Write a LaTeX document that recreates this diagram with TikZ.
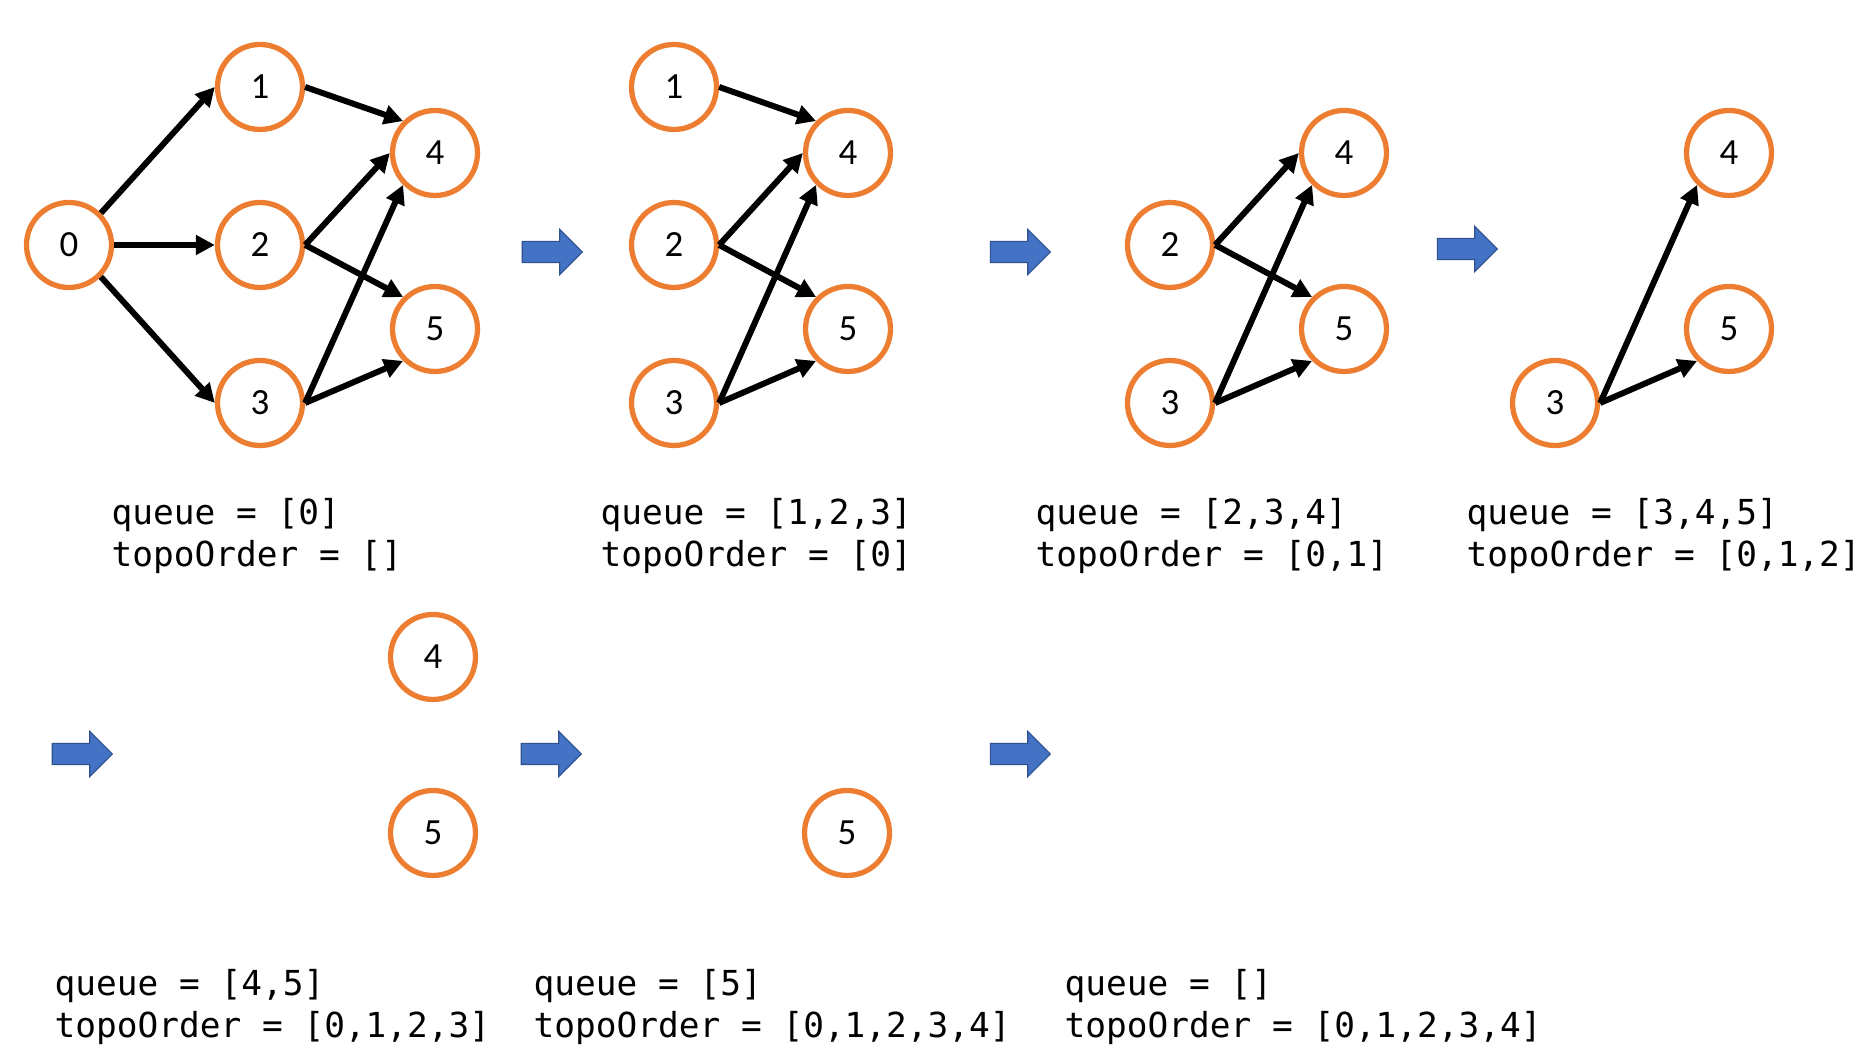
\documentclass[tikz,border=0pt]{standalone}
\usepackage{fontspec}
\setmonofont{DejaVu Sans Mono}
\newfontfamily\labelfont{Carlito}
\usepackage{tikz}
\usepackage{xcolor}
\usetikzlibrary{shapes, shapes.arrows, arrows.meta, positioning}

\definecolor{vorange}{HTML}{ED7D31}
\definecolor{stepblue}{HTML}{4472C4}
\definecolor{stepedge}{HTML}{2F528F}

\begin{document}
\begin{tikzpicture}[
        vertex/.style={circle, draw=vorange, line width=1.5pt, minimum size=0.85cm, inner sep=0pt, font=\labelfont\fontsize{10.5}{12}\selectfont},
        edge/.style={line width=1.7pt, -{Triangle[length=1.9mm, width=1.9mm]}},
        nextstep/.style={single arrow, fill=stepblue, draw=stepedge, line width=0.3pt, minimum height=0.6cm, inner xsep=0pt, inner ysep=0.1cm, single arrow head extend=0.12cm},
        state/.style={anchor=west, align=left, inner sep=0pt, font=\ttfamily\fontsize{9.8}{11.9}\selectfont}
    ]
        \useasboundingbox (0, 0) rectangle (18.74, 10.54);

        % step 1
        \node[vertex] (a0) at (0.69, 8.09) {0};
        \node[vertex] (a1) at (2.60, 9.67) {1};
        \node[vertex] (a2) at (2.60, 8.09) {2};
        \node[vertex] (a3) at (2.60, 6.51) {3};
        \node[vertex] (a4) at (4.35, 9.01) {4};
        \node[vertex] (a5) at (4.35, 7.25) {5};
        \draw[edge] (a0.north east) to (a1.west);
        \draw[edge] (a0.east) to (a2.west);
        \draw[edge] (a0.south east) to (a3.west);
        \draw[edge] (a1.east) to (a4.north west);
        \draw[edge] (a2.east) to (a4.west);
        \draw[edge] (a2.east) to (a5.north west);
        \draw[edge] (a3.east) to (a4.south west);
        \draw[edge] (a3.east) to (a5.south west);
        \node[state] (qa) at (1.11, 5.18) {queue = [0]\\topoOrder = []};

        \node[nextstep] (s1) at (5.47, 8.02) {};

        % step 2
        \node[vertex] (b1) at (6.74, 9.67) {1};
        \node[vertex] (b2) at (6.74, 8.09) {2};
        \node[vertex] (b3) at (6.74, 6.51) {3};
        \node[vertex] (b4) at (8.48, 9.01) {4};
        \node[vertex] (b5) at (8.48, 7.25) {5};
        \draw[edge] (b1.east) to (b4.north west);
        \draw[edge] (b2.east) to (b4.west);
        \draw[edge] (b2.east) to (b5.north west);
        \draw[edge] (b3.east) to (b4.south west);
        \draw[edge] (b3.east) to (b5.south west);
        \node[state] (qb) at (6.00, 5.18) {queue = [1,2,3]\\topoOrder = [0]};

        \node[nextstep] (s2) at (10.15, 8.02) {};

        % step 3
        \node[vertex] (c2) at (11.70, 8.09) {2};
        \node[vertex] (c3) at (11.70, 6.51) {3};
        \node[vertex] (c4) at (13.44, 9.01) {4};
        \node[vertex] (c5) at (13.44, 7.25) {5};
        \draw[edge] (c2.east) to (c4.west);
        \draw[edge] (c2.east) to (c5.north west);
        \draw[edge] (c3.east) to (c4.south west);
        \draw[edge] (c3.east) to (c5.south west);
        \node[state] (qc) at (10.35, 5.18) {queue = [2,3,4]\\topoOrder = [0,1]};

        \node[nextstep] (s3) at (14.62, 8.05) {};

        % step 4
        \node[vertex] (d3) at (15.55, 6.51) {3};
        \node[vertex] (d4) at (17.29, 9.01) {4};
        \node[vertex] (d5) at (17.29, 7.25) {5};
        \draw[edge] (d3.east) to (d4.south west);
        \draw[edge] (d3.east) to (d5.south west);
        \node[state] (qd) at (14.66, 5.18) {queue = [3,4,5]\\topoOrder = [0,1,2]};

        % step 5
        \node[nextstep] (s4) at (0.77, 3.00) {};
        \node[vertex] (e4) at (4.33, 3.97) {4};
        \node[vertex] (e5) at (4.33, 2.21) {5};
        \node[state] (qe) at (0.54, 0.47) {queue = [4,5]\\topoOrder = [0,1,2,3]};

        % step 6
        \node[nextstep] (s5) at (5.46, 3.00) {};
        \node[vertex] (f5) at (8.47, 2.21) {5};
        \node[state] (qf) at (5.33, 0.47) {queue = [5]\\topoOrder = [0,1,2,3,4]};

        % step 7
        \node[nextstep] (s6) at (10.15, 3.00) {};
        \node[state] (qg) at (10.64, 0.47) {queue = []\\topoOrder = [0,1,2,3,4]};
    \end{tikzpicture}
\end{document}
